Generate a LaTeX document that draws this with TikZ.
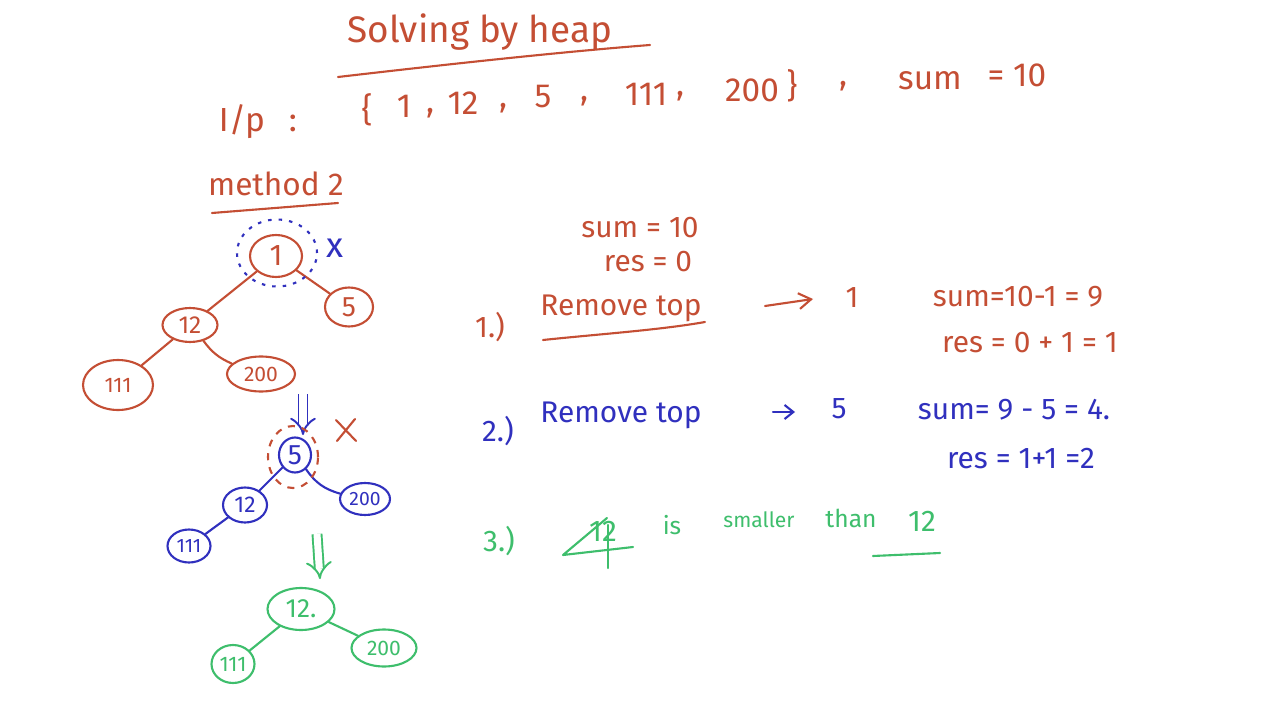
\documentclass[tikz,border=0pt]{standalone}
\usepackage{fontspec}
\setmainfont{Fira Sans}
\usetikzlibrary{shapes.geometric,arrows.meta}
\definecolor{hred}{RGB}{196,78,52}
\definecolor{hblue}{RGB}{48,48,190}
\definecolor{hgreen}{RGB}{62,190,108}
\newcommand\hfs[1]{\fontsize{#1}{#1}\selectfont}
\begin{document}
\begin{tikzpicture}[x=0.02cm,y=-0.02cm,
  pen/.style={line width=1.2pt, line cap=round, line join=round},
  lbl/.style={inner sep=0pt, anchor=center},
  hn/.style n args={2}{ellipse, draw, pen, inner sep=0pt, minimum width=#1*0.02cm, minimum height=#2*0.02cm},
  ring/.style n args={2}{ellipse, draw, line width=1.2pt, inner sep=0pt, minimum width=#1*0.02cm, minimum height=#2*0.02cm},
  dbl/.style={line width=1.1pt, double distance=4pt, -{Implies[length=6pt]}},
]
\useasboundingbox[fill=white] (0,0) rectangle (1280,709);

% ---------- title ----------
\node[lbl, hred, font=\hfs{21}] (title) at (480,32) {Solving by heap};
\coordinate (tu1) at (338,77); \coordinate (tu2) at (650,45);
\draw[pen, hred] (tu1) .. controls (450,64) and (560,52) .. (tu2);

% ---------- input ----------
\begin{scope}[every node/.style={lbl, hred, font=\hfs{19}}]
\node (ip) at (242,122) {I/p};
\node (ipc) at (293,123) {:};
\node (br1) at (367,110) {\{};
\node (i1) at (404,106) {1};
\node (c1) at (430,113) {,};
\node (i12) at (463,103) {12};
\node (c2) at (503,108) {,};
\node (i5) at (543,97) {5};
\node (c3) at (584,101) {,};
\node (i111) at (646,94) {111};
\node (c4) at (680,96) {,};
\node (i200) at (752,90) {200};
\node (br2) at (792,86) {\}};
\node (c5) at (843,86) {,};
\node (isum) at (930,81) {sum};
\node (ieq) at (1017,75) {= 10};
\end{scope}

% ---------- method 2 ----------
\node[lbl, hred, font=\hfs{18}] (mth) at (276,184) {method 2};
\coordinate (mu1) at (212,213); \coordinate (mu2) at (338,203);
\draw[pen, hred] (mu1) -- (mu2);

% ---------- tree 1 (red) ----------
\begin{scope}[hred]
\node[hn={52}{42}, font=\hfs{17}] (t1a) at (276,256) {1};
\node[hn={48}{39}, font=\hfs{16}] (t1b) at (349,307) {5};
\node[hn={55}{34}, font=\hfs{14}] (t1d) at (190,325) {12};
\node[hn={70}{50}, font=\hfs{12}] (t1e) at (118,385) {111};
\node[hn={68}{35}, font=\hfs{12}] (t1f) at (261,374) {200};
\draw[pen] (t1a) -- (t1d);
\draw[pen] (t1a) -- (t1b);
\draw[pen] (t1d) -- (t1e);
\draw[pen] (t1d) to[bend right=15] (t1f);
\end{scope}
\node[ring={80}{67}, hblue, dash pattern=on 2pt off 4pt] (t1ring) at (277,253) {};
\node[lbl, hblue, font=\hfs{20}] (t1x) at (335,248) {x};

% ---------- arrow 1 ----------
\coordinate (d1a) at (303,394); \coordinate (d1b) at (303,435);
\draw[dbl, hblue] (d1a) -- (d1b);
\coordinate (rx1) at (336,420); \coordinate (rx2) at (356,441);
\coordinate (rx3) at (355,419); \coordinate (rx4) at (337,441);
\draw[pen, hred] (rx1) -- (rx2);
\draw[pen, hred] (rx3) -- (rx4);

% ---------- tree 2 (blue) ----------
\begin{scope}[hblue]
\node[hn={32}{35}, font=\hfs{16}] (t2a) at (295,455) {5};
\node[hn={44}{35}, font=\hfs{13}] (t2b) at (245,505) {12};
\node[hn={50}{32}, font=\hfs{11}] (t2d) at (365,499) {200};
\node[hn={43}{33}, font=\hfs{11}] (t2e) at (189,546) {111};
\draw[pen] (t2a) -- (t2b);
\draw[pen] (t2a) to[bend right=20] (t2d);
\draw[pen] (t2b) -- (t2e);
\end{scope}
\node[ring={50}{62}, hred, dash pattern=on 4pt off 4pt] (t2ring) at (293,457) {};

% ---------- arrow 2 ----------
\coordinate (d2a) at (317,534); \coordinate (d2b) at (320,579);
\draw[dbl, hgreen] (d2a) -- (d2b);

% ---------- tree 3 (green) ----------
\begin{scope}[hgreen]
\node[hn={67}{42}, font=\hfs{15}] (t3a) at (301,609) {12.};
\node[hn={43}{38}, font=\hfs{12}] (t3b) at (233,664) {111};
\node[hn={65}{37}, font=\hfs{12}] (t3c) at (384,648) {200};
\draw[pen] (t3a) -- (t3b);
\draw[pen] (t3a) -- (t3c);
\end{scope}

% ---------- right side: step 1 (red) ----------
\begin{scope}[every node/.style={lbl, hred, font=\hfs{17}}]
\node (s0) at (640,228) {sum = 10};
\node (r0) at (648,262) {res = 0};
\node (st1) at (490,327) {1.)};
\node (rt1) at (621,308) {Remove top};
\node (v1) at (852,298) {1};
\node (sm1) at (1018,297) {sum=10-1 = 9};
\node (rs1) at (1030,343) {res = 0 + 1 = 1};
\end{scope}
\coordinate (ru1) at (543,340); \coordinate (ru2) at (705,322);
\draw[pen, hred] (ru1) .. controls (600,334) and (660,330) .. (ru2);
\coordinate (a1s) at (765,306); \coordinate (a1e) at (813,299);
\draw[pen, hred, -{Straight Barb[length=7pt,width=9pt]}] (a1s) -- (a1e);

% ---------- step 2 (blue) ----------
\begin{scope}[every node/.style={lbl, hblue, font=\hfs{17}}]
\node (st2) at (498,431) {2.)};
\node (rt2) at (621,415) {Remove top};
\node (v2) at (839,409) {5};
\node (sm2) at (1014,410) {sum= 9 - 5 = 4.};
\node (rs2) at (1021,459) {res = 1+1 =2};
\end{scope}
\coordinate (a2s) at (773,412); \coordinate (a2e) at (795,412);
\draw[pen, hblue, -{Straight Barb[length=5pt,width=8pt]}] (a2s) -- (a2e);

% ---------- step 3 (green) ----------
\begin{scope}[every node/.style={lbl, hgreen, font=\hfs{17}}]
\node (st3) at (499,541) {3.)};
\node (x12) at (603,531) {12};
\node[font=\hfs{14}] (is) at (672,525) {is};
\node[font=\hfs{12}] (smaller) at (759,520) {smaller};
\node[font=\hfs{14}] (than) at (851,518) {than};
\node (g12) at (922,521) {12};
\end{scope}
\coordinate (k1) at (563,555); \coordinate (k2) at (607,518); \coordinate (k3) at (633,547);
\coordinate (k4) at (608,525); \coordinate (k5) at (608,568);
\draw[pen, hgreen] (k2) -- (k1) -- (k3);
\draw[pen, hgreen] (k4) -- (k5);
\coordinate (gu1) at (873,556); \coordinate (gu2) at (940,553);
\draw[pen, hgreen] (gu1) -- (gu2);
\end{tikzpicture}
\end{document}
